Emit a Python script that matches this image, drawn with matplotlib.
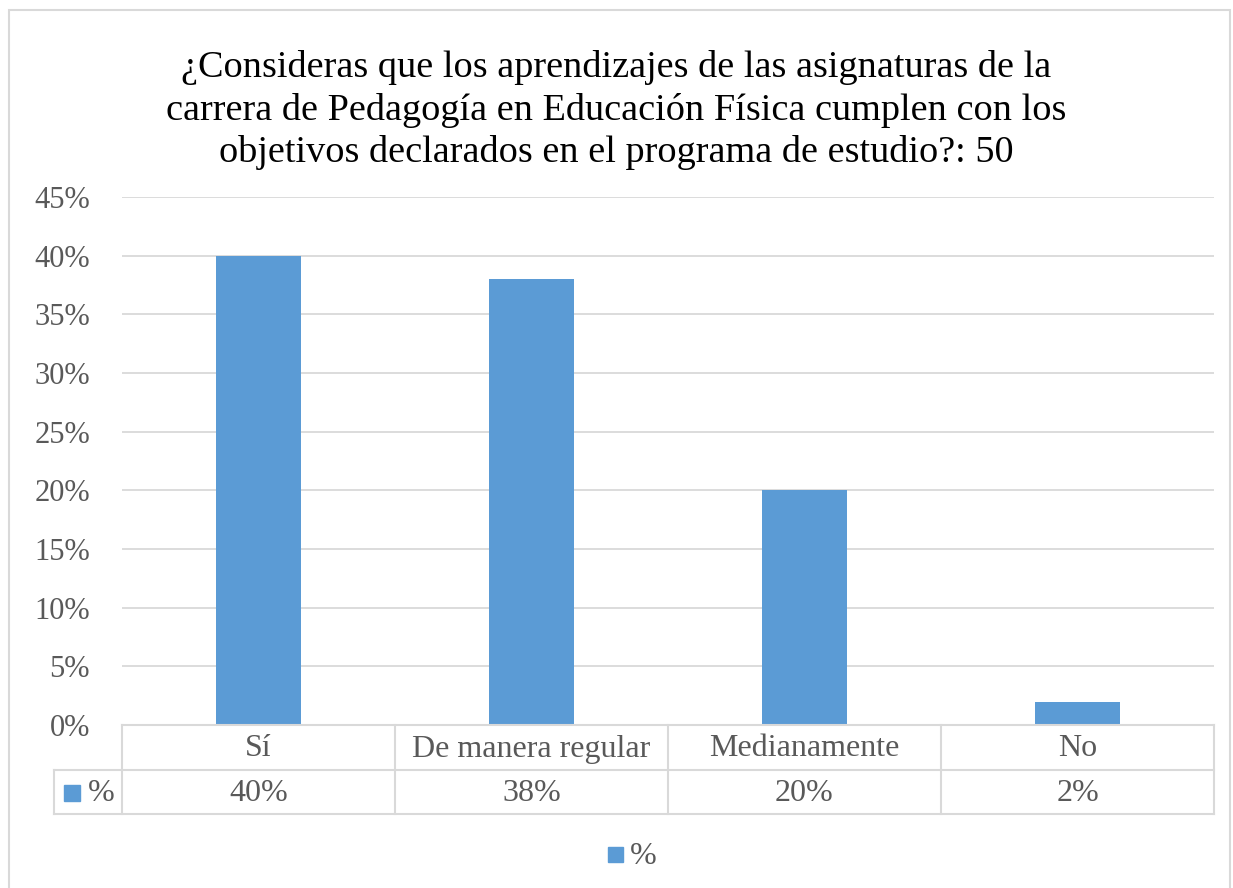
import matplotlib.pyplot as plt
from matplotlib.patches import Rectangle

categorias = ['Sí', 'De manera regular', 'Medianamente', 'No']
valores = [40, 38, 20, 2]
etiquetas = ['40%', '38%', '20%', '2%']
serie = '%'
titulo = ('¿Consideras que los aprendizajes de las asignaturas de la\n'
          'carrera de Pedagogía en Educación Física cumplen con los\n'
          'objetivos declarados en el programa de estudio?: 50')

plt.rcParams['font.family'] = ['Liberation Serif', 'DejaVu Serif']
azul = '#5B9BD5'
gris = '#595959'
linea = '#D9D9D9'

W, H = 1233, 888
fig = plt.figure(figsize=(W / 100, H / 100), dpi=100)

# marco exterior
fig.patches.append(Rectangle((9 / W, -0.01), (1230 - 9) / W, (H - 10) / H + 0.01,
                             transform=fig.transFigure, fill=False,
                             edgecolor=linea, lw=1.5))

x0, x1 = 122, 1214
y_top, y_zero = 197, 725
ax = fig.add_axes([x0 / W, 1 - y_zero / H, (x1 - x0) / W, (y_zero - y_top) / H])
pos = range(len(categorias))
ax.bar(pos, valores, width=0.31, color=azul, zorder=3)
ax.set_xlim(-0.5, len(categorias) - 0.5)
ax.set_ylim(0, 45)
ax.set_yticks(range(0, 46, 5))
ax.set_yticklabels([f'{v}%' for v in range(0, 46, 5)], fontsize=22, color=gris)
ax.tick_params(axis='y', length=0, pad=23)
ax.set_xticks([])
ax.grid(axis='y', color=linea, lw=1.3, zorder=0)
for s in ax.spines.values():
    s.set_visible(False)

fig.text(0.5, 1 - 110 / H, titulo, ha='center', va='center', fontsize=27.5,
         color='black', linespacing=1.26)

# tabla de datos
tab = fig.add_axes([54 / W, 1 - 814 / H, (x1 - 54) / W, (814 - 725) / H])
tab.set_xlim(54, x1)
tab.set_ylim(814, 725)
tab.axis('off')
kw = dict(color=linea, lw=1.5, clip_on=False)
tab.plot([x0, x1], [725, 725], **kw)
tab.plot([54, x1], [770, 770], **kw)
tab.plot([54, x1], [814, 814], **kw)
tab.plot([54, 54], [770, 814], **kw)
ancho = (x1 - x0) / len(categorias)
for i in range(len(categorias) + 1):
    tab.plot([x0 + i * ancho] * 2, [725, 814], **kw)
for i, (c, e) in enumerate(zip(categorias, etiquetas)):
    xc = x0 + (i + 0.5) * ancho
    tab.text(xc, 749, c, ha='center', va='center', fontsize=23, color=gris)
    tab.text(xc, 793, e, ha='center', va='center', fontsize=23, color=gris)
tab.add_patch(Rectangle((64, 785), 16, 16, color=azul, clip_on=False))
tab.text(88, 793, serie, ha='left', va='center', fontsize=23, color=gris)

# leyenda
fig.patches.append(Rectangle((608 / W, 1 - 862 / H), 15 / W, 15 / H,
                             transform=fig.transFigure, color=azul))
fig.text(630 / W, 1 - 856 / H, serie, ha='left', va='center', fontsize=23, color=gris)

fig.savefig('out.png', dpi=100)
